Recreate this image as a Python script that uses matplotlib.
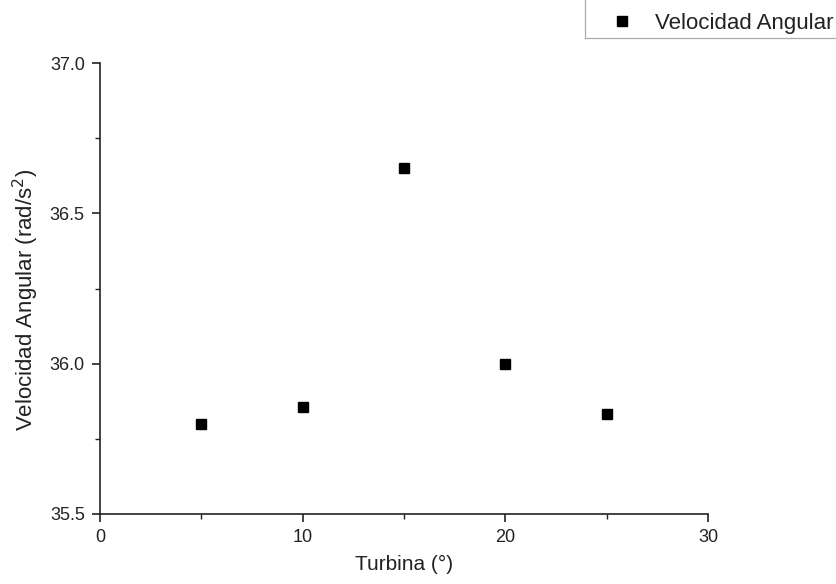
import matplotlib.pyplot as plt
from matplotlib.lines import Line2D
from matplotlib.ticker import MultipleLocator

plt.rcParams['font.family'] = ['Liberation Sans', 'DejaVu Sans']

turbina = [5, 10, 15, 20, 25]
velocidad = [35.80, 35.855, 36.65, 36.0, 35.834]
series_label = 'Velocidad Angular'

fig = plt.figure(figsize=(8.36, 5.84), dpi=100)
ax = fig.add_axes([100/836, 1-514/584, 608/836, 451/584])

ax.plot(turbina, velocidad, linestyle='none', marker='s', markersize=7.5,
        color='black', label=series_label)

ax.set_xlim(0, 30)
ax.set_ylim(35.5, 37.0)
ax.xaxis.set_major_locator(MultipleLocator(10))
ax.xaxis.set_minor_locator(MultipleLocator(5))
ax.yaxis.set_major_locator(MultipleLocator(0.5))
ax.yaxis.set_minor_locator(MultipleLocator(0.25))
ax.yaxis.set_major_formatter(plt.FormatStrFormatter('%.1f'))

for s in ['top', 'right']:
    ax.spines[s].set_visible(False)
for s in ['left', 'bottom']:
    ax.spines[s].set_linewidth(1.2)
    ax.spines[s].set_color('#222222')

ax.tick_params(which='major', direction='out', length=6, width=1.2,
               labelsize=13, color='#222222', labelcolor='#222222', pad=5)
ax.tick_params(which='minor', direction='out', length=3.5, width=1.0, color='#222222')

ax.set_xlabel('Turbina (°)', fontsize=15, color='#222222', labelpad=6)
ax.set_ylabel('Velocidad Angular (rad/s$^2$)', fontsize=16, color='#222222')
ax.yaxis.set_label_coords(-0.097, 0.4745)

leg = fig.legend(loc='lower left', bbox_to_anchor=(585/836, 1-38/584),
                 fontsize=16, frameon=True, fancybox=False, borderpad=0.2,
                 handlelength=2.9, handletextpad=0.05, borderaxespad=0,
                 markerscale=0.95)
leg.get_frame().set_visible(False)
for t in leg.get_texts():
    t.set_color('#222222')

# legend box is clipped by the figure edge: only left and bottom borders show
bx, by = 585/836, 1-38/584
fig.add_artist(Line2D([bx, bx], [by, 1.0], transform=fig.transFigure,
                      color='#aaaaaa', linewidth=0.9))
fig.add_artist(Line2D([bx, 1.0], [by, by], transform=fig.transFigure,
                      color='#aaaaaa', linewidth=0.9))

plt.savefig('out.png', dpi=100)
